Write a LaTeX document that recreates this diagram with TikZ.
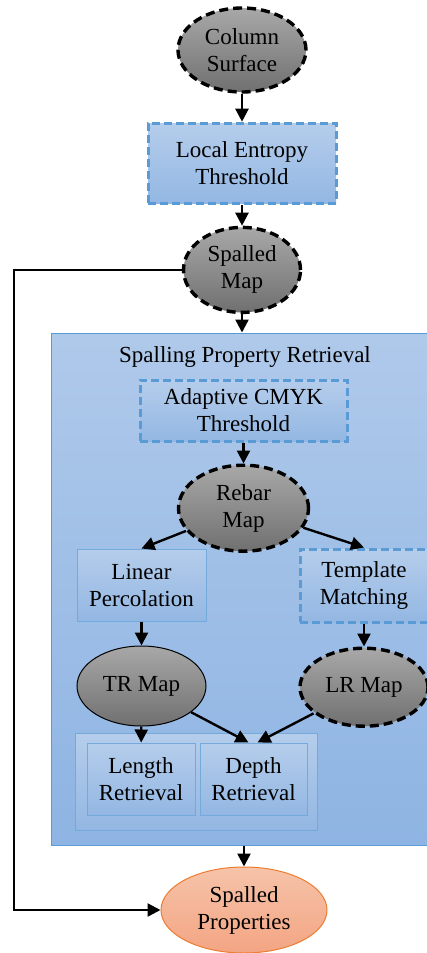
\documentclass[tikz,border=0pt]{standalone}
\usepackage{fontspec}
\newfontfamily\diagfont{Liberation Serif}[Scale=1.0]
\usetikzlibrary{arrows.meta,positioning,shapes.geometric}
\definecolor{graytop}{HTML}{A8A8A8}
\definecolor{graybot}{HTML}{707070}
\definecolor{bluetop}{HTML}{B5CDEB}
\definecolor{bluebot}{HTML}{93B7E3}
\definecolor{paneltop}{HTML}{AFC9EA}
\definecolor{panelbot}{HTML}{8EB4E3}
\definecolor{edgeblue}{HTML}{5B9BD5}
\definecolor{saltop}{HTML}{F6C3A9}
\definecolor{salbot}{HTML}{F3A583}
\definecolor{edgeorange}{HTML}{ED7D31}

\begin{document}
\begin{tikzpicture}[
  x=1pt, y=-1pt,
  font=\diagfont\fontsize{23}{27}\selectfont,
  mapnode/.style={ellipse, draw=black, line width=3.4pt, dash pattern=on 9pt off 5pt, top color=graytop, bottom color=graybot, inner sep=0pt, align=center},
  plainmap/.style={ellipse, draw=black, line width=1pt, top color=graytop, bottom color=graybot, inner sep=0pt, align=center},
  dashbox/.style={draw=edgeblue, line width=3pt, dash pattern=on 8pt off 4pt, top color=bluetop, bottom color=bluebot, inner sep=0pt, align=center},
  solidbox/.style={draw=edgeblue!85, line width=1pt, top color=bluetop, bottom color=bluebot, inner sep=0pt, align=center},
  result/.style={ellipse, draw=edgeorange, line width=1pt, top color=saltop, bottom color=salbot, inner sep=0pt, align=center},
  arr/.style={-{Triangle[length=13pt, width=13pt]}, line width=2.4pt}
]
\path[use as bounding box, fill=white] (0,0) rectangle (426,953);

\node[mapnode, minimum width=128pt, minimum height=84pt] (surface) at (242,50) {Column\\Surface};
\node[dashbox, minimum width=188pt, minimum height=80pt, below=28pt of surface] (entropy) {Local Entropy\\Threshold};
\node[mapnode, minimum width=117pt, minimum height=85pt, below=21pt of entropy] (spmap) {Spalled\\Map};

\node[draw=edgeblue, line width=1pt, top color=paneltop, bottom color=panelbot, minimum width=379pt, minimum height=512pt, inner sep=0pt] (panel) at (240.5,589) {};
\node (title) at (245,357) {Spalling Property Retrieval};
\node[dashbox, minimum width=207pt, minimum height=61pt] (cmyk) at (243.5,410.5) {Adaptive CMYK\\Threshold};
\node[mapnode, minimum width=130pt, minimum height=86pt, below=21pt of cmyk] (rebar) {Rebar\\Map};
\node[solidbox, minimum width=129pt, minimum height=72pt] (linperc) at (141.5,585) {Linear\\Percolation};
\node[dashbox, minimum width=128pt, minimum height=73pt] (template) at (364,585.5) {Template\\Matching};
\node[plainmap, minimum width=129pt, minimum height=80pt, below=24pt of linperc] (trmap) {TR Map};
\node[mapnode, minimum width=128pt, minimum height=78pt, below=23pt of template] (lrmap) {LR Map};
\node[solidbox, minimum width=242pt, minimum height=97pt] (group) at (196,781.5) {};
\node[solidbox, minimum width=108pt, minimum height=72pt] (length) at (141,779) {Length\\Retrieval};
\node[solidbox, minimum width=107pt, minimum height=72pt, right=4pt of length] (depth) {Depth\\Retrieval};

\node[result, minimum width=166pt, minimum height=86pt] (props) at (244,910) {Spalled\\Properties};
\coordinate (bend) at (14,600);

\draw[arr] (surface) -- (entropy);
\draw[arr] (entropy) -- (spmap);
\draw[arr] (spmap) -- (spmap |- panel.north);
\draw[arr] (cmyk) -- (rebar);
\draw[arr] (rebar) -- (linperc.north);
\draw[arr] (rebar) -- (template.north);
\draw[arr] (linperc) -- (trmap);
\draw[arr] (template) -- (lrmap);
\draw[arr] (trmap) -- (length);
\draw[arr] (trmap) -- ([xshift=-5pt]depth.north);
\draw[arr] (lrmap) -- ([xshift=4pt]depth.north);
\draw[arr] (props.north |- panel.south) -- (props);
\draw[arr] (spmap.west) -- (spmap.west -| bend) |- (props.west);
\end{tikzpicture}
\end{document}
